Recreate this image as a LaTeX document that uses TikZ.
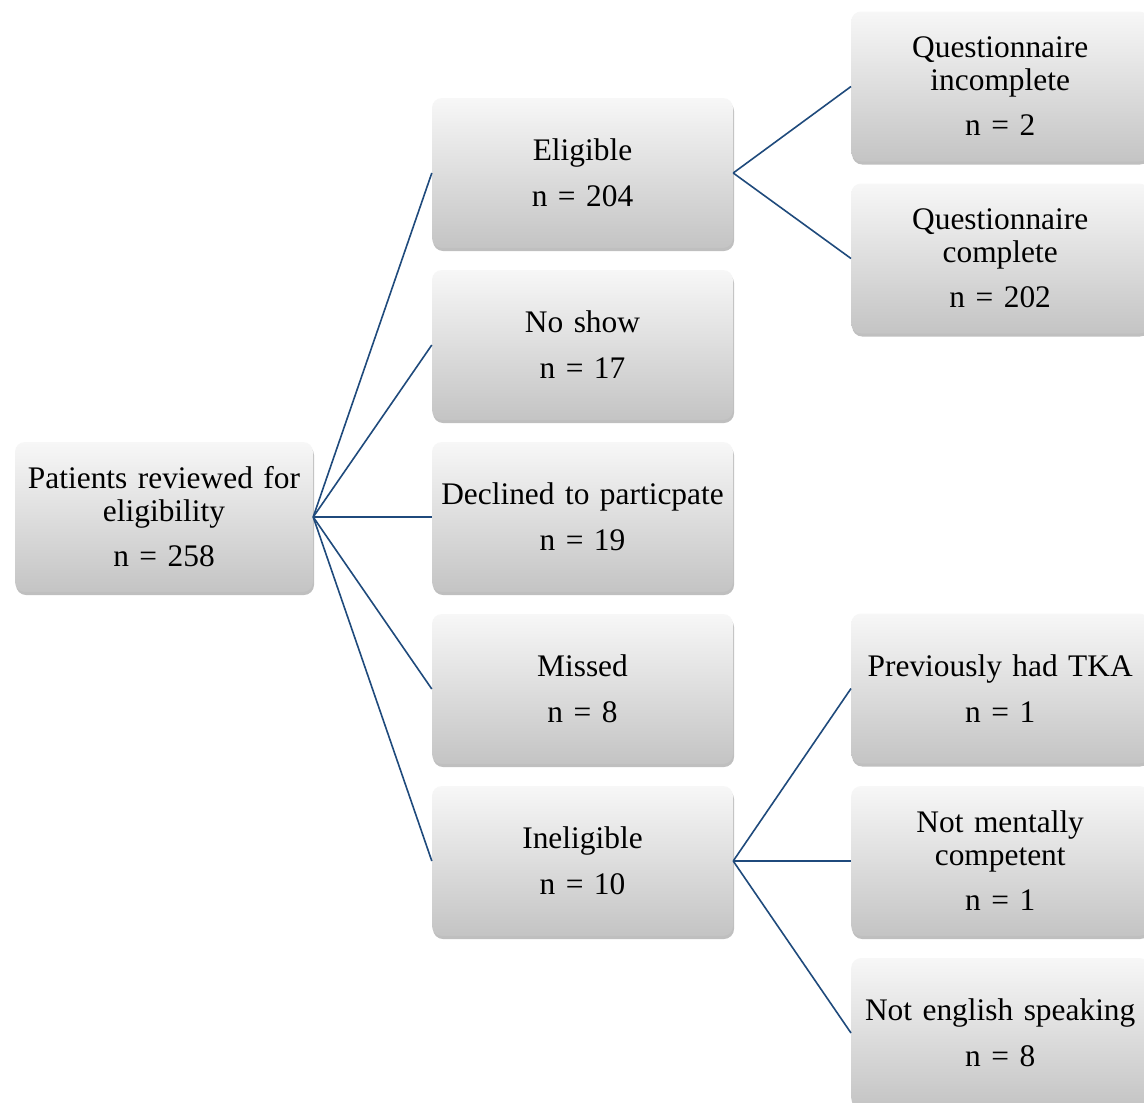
\documentclass[tikz,border=0pt]{standalone}
\usepackage{fontspec}
\setmainfont{Liberation Serif}
\usetikzlibrary{shadows}
\definecolor{conn}{HTML}{1F4A7C}
\definecolor{boxtop}{HTML}{F7F7F7}
\definecolor{boxbot}{HTML}{C4C4C4}
\begin{document}
\begin{tikzpicture}[x=1pt,y=1pt,
  box/.style={rounded corners=10pt, minimum height=150pt, inner sep=0pt,
    top color=boxtop, bottom color=boxbot, draw=none,
    drop shadow={shadow xshift=1pt, shadow yshift=-3pt, opacity=0.25, fill=black},
    align=center, font=\fontsize{31.4}{33}\selectfont},
  lbox/.style={box, minimum width=298pt, text width=292pt},
  mbox/.style={box, minimum width=301pt, text width=295pt},
  rbox/.style={box, minimum width=298pt, text width=292pt},
  conn/.style={draw=conn, line width=1.6pt}]
\clip (0,0) rectangle (1144,-1103);
\fill[white] (0,0) rectangle (1144,-1103);

\node[lbox] (root) at (164,-517) {Patients reviewed for\\ eligibility\\[12pt] n = 258};

\node[mbox] (elig) at (582.5,-173) {Eligible\\[13pt] n = 204};
\node[mbox] (noshow) at (582.5,-345) {No show\\[13pt] n = 17};
\node[mbox] (decl) at (582.5,-517) {Declined to particpate\\[13pt] n = 19};
\node[mbox] (missed) at (582.5,-689) {Missed\\[13pt] n = 8};
\node[mbox] (inelig) at (582.5,-861) {Ineligible\\[13pt] n = 10};

\node[rbox, anchor=west] (qinc) at (851,-86.5) {Questionnaire\\ incomplete\\[12pt] n = 2};
\node[rbox, anchor=west] (qcom) at (851,-258.5) {Questionnaire\\ complete\\[12pt] n = 202};
\node[rbox, anchor=west] (tka) at (851,-688.5) {Previously had TKA\\[13pt] n = 1};
\node[rbox, anchor=west] (ment) at (851,-861) {Not mentally\\ competent\\[12pt] n = 1};
\node[rbox, anchor=west] (eng) at (851,-1033) {Not english speaking\\[13pt] n = 8};

\foreach \t in {elig,noshow,decl,missed,inelig}
  \draw[conn] (root.east) -- (\t.west);
\foreach \t in {qinc,qcom}
  \draw[conn] (elig.east) -- (\t.west);
\foreach \t in {tka,ment,eng}
  \draw[conn] (inelig.east) -- (\t.west);
\end{tikzpicture}
\end{document}
